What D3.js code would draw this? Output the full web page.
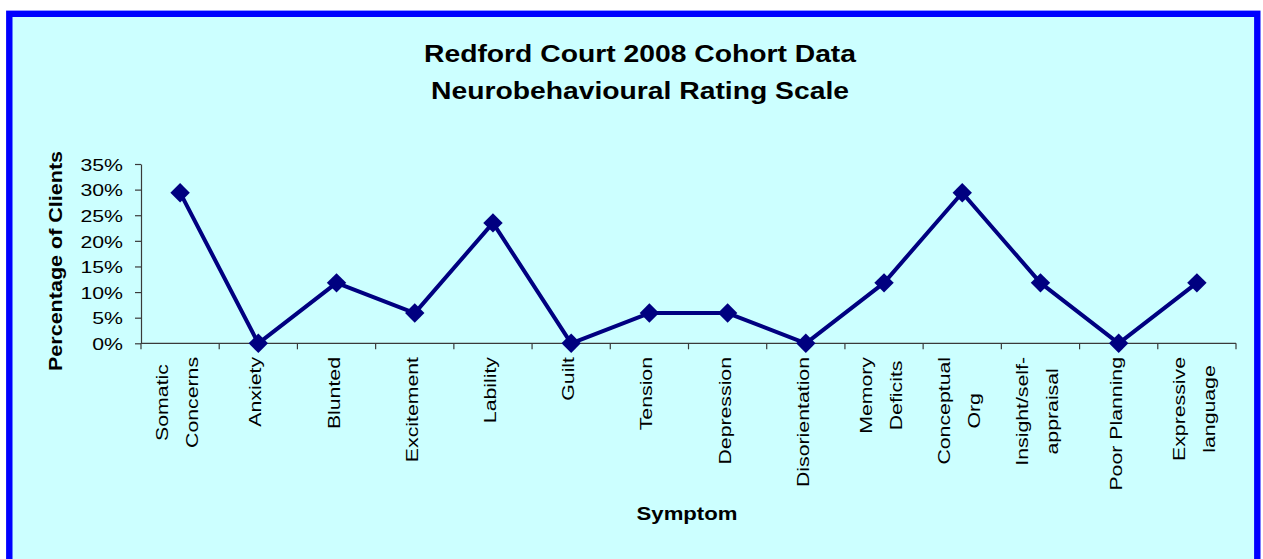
<!DOCTYPE html>
<html>
<head>
<meta charset="utf-8">
<script src="https://cdn.jsdelivr.net/npm/d3@7"></script>
<style>
  html, body { margin: 0; padding: 0; background: #ffffff; }
  svg { display: block; }
  text { font-family: "Liberation Sans", Arial, sans-serif; fill: #000; }
</style>
</head>
<body>
<svg id="chart" width="1263" height="559"></svg>
<script>
// ---- data ----
const titleLines = ["Redford Court 2008 Cohort Data", "Neurobehavioural Rating Scale"];
const categories = [
  ["Somatic", "Concerns"], ["Anxiety"], ["Blunted"], ["Excitement"], ["Lability"],
  ["Guilt"], ["Tension"], ["Depression"], ["Disorientation"], ["Memory", "Deficits"],
  ["Conceptual", "Org"], ["Insight/self-", "appraisal"], ["Poor Planning"], ["Expressive", "language"]
];
const values = [0.294, 0, 0.118, 0.059, 0.235, 0, 0.059, 0.059, 0, 0.118, 0.294, 0.118, 0, 0.118];
const yTicks = [0, 0.05, 0.10, 0.15, 0.20, 0.25, 0.30, 0.35];
const yTitle = "Percentage of Clients";
const xTitle = "Symptom";

// ---- layout ----
const W = 1263, H = 559;
const plot = { left: 141, right: 1236, top: 164, bottom: 343.3 };
const stretch = 1.23;
const svg = d3.select("#chart");

// background + border
svg.append("rect").attr("x", 9.3).attr("y", 13.8).attr("width", 1248).attr("height", 620)
  .attr("fill", "#CCFFFF").attr("stroke", "#0000FF").attr("stroke-width", 6.4);

const keys = categories.map(d => d.join(" "));
const x = d3.scaleBand().domain(keys).range([plot.left, plot.right]).padding(0);
const y = d3.scaleLinear().domain([0, 0.35]).range([plot.bottom, plot.top]);

// title
svg.selectAll("text.title").data(titleLines).join("text")
  .attr("class", "title")
  .attr("transform", (d, i) => `translate(640,${61.7 + i * 37.3}) scale(${stretch},1)`)
  .attr("text-anchor", "middle")
  .style("font-size", "23px").style("font-weight", "bold")
  .text(d => d);

// y axis
const yAxis = svg.append("g").attr("transform", `translate(${plot.left},0)`)
  .call(d3.axisLeft(y).tickValues(yTicks).tickSize(6).tickSizeOuter(0).tickFormat(d3.format(".0%")));
yAxis.select(".domain").attr("stroke", "#3a3a3a").attr("stroke-width", 1.2);
yAxis.selectAll(".tick line").attr("stroke", "#3a3a3a").attr("stroke-width", 1.2);
yAxis.selectAll(".tick text")
  .attr("x", 0).attr("dy", "0.36em")
  .attr("transform", `translate(-18,0) scale(${stretch},1)`)
  .style("font-size", "17.3px").style("font-family", "'Liberation Sans', Arial, sans-serif")
  .attr("fill", "#000");

// x axis line + boundary ticks
const xAxis = svg.append("g");
xAxis.append("line").attr("x1", plot.left).attr("x2", plot.right)
  .attr("y1", y(0)).attr("y2", y(0)).attr("stroke", "#3a3a3a").attr("stroke-width", 1.2);
const bounds = keys.map(k => x(k)).concat([x(keys[keys.length - 1]) + x.bandwidth()]);
xAxis.selectAll("line.tk").data(bounds).join("line").attr("class", "tk")
  .attr("x1", d => d).attr("x2", d => d).attr("y1", y(0)).attr("y2", y(0) + 6)
  .attr("stroke", "#3a3a3a").attr("stroke-width", 1.2);

// x labels (rotated, multi-line centred, top aligned near axis)
const labelTop = 357;
const lineGap = 30;
categories.forEach((lines, ci) => {
  const cx = x(keys[ci]) + x.bandwidth() / 2;
  const g = svg.append("g");
  const texts = lines.map((ln, li) => {
    const base = cx + 3 + (li - (lines.length - 1) / 2) * lineGap;
    return g.append("text").attr("text-anchor", "middle")
      .style("font-size", "17.3px").text(ln).datum(base);
  });
  const L = d3.max(texts, t => t.node().getComputedTextLength()) * stretch;
  texts.forEach(t => {
    const base = t.datum();
    t.attr("transform", `translate(${base},${labelTop + L / 2}) rotate(-90) scale(${stretch},1)`);
  });
});

// axis titles
svg.append("text")
  .attr("transform", `translate(62,261) rotate(-90) scale(${stretch},1)`)
  .attr("text-anchor", "middle")
  .style("font-size", "17.5px").style("font-weight", "bold")
  .text(yTitle);
svg.append("text")
  .attr("transform", `translate(687,520) scale(${stretch},1)`)
  .attr("text-anchor", "middle")
  .style("font-size", "18px").style("font-weight", "bold")
  .text(xTitle);

// line + markers
const pts = values.map((v, i) => [x(keys[i]) + x.bandwidth() / 2, y(v)]);
svg.append("path").datum(pts)
  .attr("d", d3.line())
  .attr("fill", "none").attr("stroke", "#000080").attr("stroke-width", 4)
  .attr("stroke-linejoin", "round");
svg.selectAll("path.mk").data(pts).join("path").attr("class", "mk")
  .attr("transform", d => `translate(${d[0]},${d[1]})`)
  .attr("d", d3.symbol().type(d3.symbolDiamond2).size(240))
  .attr("fill", "#000080");
</script>
</body>
</html>
